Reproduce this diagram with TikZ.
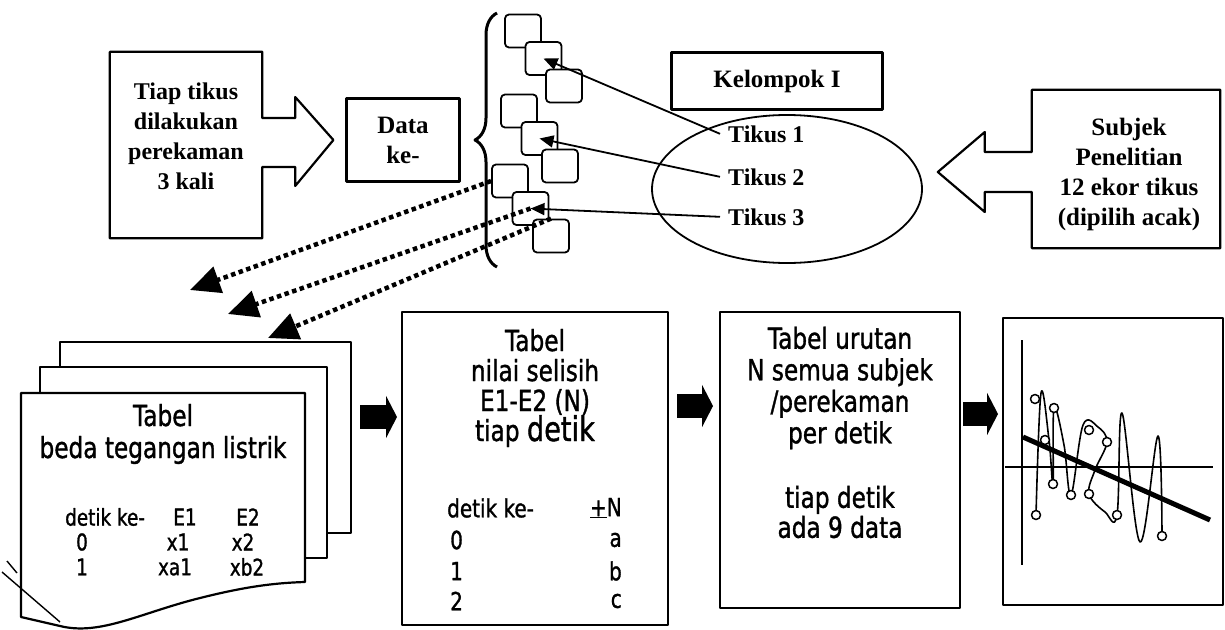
\documentclass[tikz,border=0pt]{standalone}
\usepackage{fontspec}
\setmainfont{Liberation Serif}
\newfontfamily\tahoma[FakeStretch=0.8, FakeBold=1.2]{DejaVu Sans}
\usetikzlibrary{arrows.meta, calc, positioning, shapes.geometric, decorations.pathreplacing}

\begin{document}
\begin{tikzpicture}[
    x=1pt, y=-1pt,
    line join=round,
    every node/.style={inner sep=0pt},
    frame/.style={draw, line width=2.2pt},
    serif/.style={font=\bfseries\fontsize{25}{30}\selectfont, align=center},
    sans/.style={font=\tahoma\fontsize{29}{31.5}\selectfont, align=center},
    cell/.style={font=\tahoma\fontsize{23}{25}\selectfont},
    cellb/.style={font=\tahoma\fontsize{25}{27}\selectfont},
    minibox/.style={draw, line width=1.8pt, rounded corners=4pt, fill=white, minimum width=36pt, minimum height=33pt},
    ptr/.style={line width=1.8pt, -{Triangle[length=14pt,width=12pt]}},
    dots/.style={line width=4.5pt, dash pattern=on 4.5pt off 3.5pt, -{Triangle[length=30pt,width=27pt]}},
    fat/.style={line width=24pt, -{Triangle[length=11pt,width=42pt]}},
    dot/.style={draw, fill=white, line width=1.5pt}
]
    \useasboundingbox (0,0) rectangle (1225,629);

    % top row
    \node[minimum width=152pt, minimum height=186pt] (tiap) at (186,145) {};
    \node[serif, font=\bfseries\fontsize{24}{30}\selectfont] (tiaptxt) at (186,136) {Tiap tikus\\dilakukan\\perekaman\\3 kali};
    \node[frame, serif, minimum width=113pt, minimum height=83pt] (data) at (403,140) {Data\\ke-};
    \draw[frame] (tiap.north west) -- (tiap.north east) -- ($(tiap.east)+(0,-27)$) -- ++(33,0) -- ++(0,-21)
        -- ($(data.west)+(-12,0)$) -- ($(tiap.east)+(33,41)$) -- ($(tiap.east)+(33,22)$)
        -- ($(tiap.east)+(0,22)$) -- (tiap.south east) -- (tiap.south west) -- cycle;

    \draw[line width=3pt, decorate, decoration={brace, amplitude=22pt}] (497,267) -- (497,13);

    \foreach \g/\x/\y in {1/523/31, 2/519/111, 3/510/181}
        \foreach \k in {1,2,3}
            \node[minibox] (s\g\k) at ({\x+20.5*(\k-1)},{\y+27.5*(\k-1)}) {};

    \node[frame, serif, minimum width=211pt, minimum height=57pt] (kel) at (777,81) {Kelompok I};
    \node[draw, ellipse, line width=1.8pt, minimum width=270pt, minimum height=148pt] (grp) at (787,189) {};
    \node[serif, font=\bfseries\fontsize{24}{30}\selectfont, anchor=base west, inner xsep=8pt] (t1) at (720,142) {Tikus 1};
    \node[serif, font=\bfseries\fontsize{24}{30}\selectfont, anchor=base west, inner xsep=8pt] (t2) at (720,185) {Tikus 2};
    \node[serif, font=\bfseries\fontsize{24}{30}\selectfont, anchor=base west, inner xsep=8pt] (t3) at (720,225) {Tikus 3};
    \draw[ptr] (t1.west) -- (s12.center);
    \draw[ptr] (t2.west) -- (s22.center);
    \draw[ptr] (t3.west) -- (s32.center);

    \node[minimum width=188pt, minimum height=158pt] (subj) at (1126,169) {};
    \node[serif] (subjtxt) at (1129,174) {Subjek\\Penelitian\\12 ekor tikus\\(dipilih acak)};
    \draw[frame] (subj.north west) -- (subj.north east) -- (subj.south east) -- (subj.south west)
        -- ($(subj.west)+(0,23)$) -- ++(-47,0) -- ++(0,20) -- ($(subj.west)+(-94,3)$)
        -- ($(subj.west)+(-47,-37)$) -- ++(0,20) -- ($(subj.west)+(0,-17)$) -- cycle;

    % dotted links to the tables
    \coordinate (d1) at (190,290);
    \coordinate (d2) at (228,314);
    \coordinate (d3) at (268,338);
    \draw[dots] (s31.west) -- (d1);
    \draw[dots] (s32.center) -- (d2);
    \draw[dots] (s33.north) -- (d3);

    % bottom row
    \node[frame, fill=white, minimum width=291pt, minimum height=191pt] (sheetC) at (205.5,437.5) {};
    \node[frame, fill=white, minimum width=287pt, minimum height=191pt] (sheetB) at (183.5,462.5) {};
    \draw[frame, fill=white] (21,393) -- (305,393) -- (305,582)
        .. controls (270,583) and (240,588) .. (200,598)
        .. controls (140,613) and (100,636) .. (60,626) -- (21,617) -- cycle;
    \draw[line width=1.4pt] (2,572) -- (60,622);
    \draw[line width=1.4pt] (7,561) -- (17,573);
    \node[sans, font=\tahoma\fontsize{29}{32}\selectfont] (ftitle) at (163,434) {Tabel\\beda tegangan listrik};
    \node[cell, anchor=west] (fh) at (65,517) {detik ke-};
    \node[cell] (fe1) at (185,517) {E1};
    \node[cell] (fe2) at (248,517) {E2};
    \node[cell] (fr0) at (82,542) {0};
    \node[cell] (fx1) at (178,542) {x1};
    \node[cell] (fx2) at (243,542) {x2};
    \node[cell] (fr1) at (82,567) {1};
    \node[cell] (fxa) at (175,567) {xa1};
    \node[cell] (fxb) at (247,567) {xb2};

    \node[frame, minimum width=266pt, minimum height=313pt] (tabN) at (535,468.5) {};
    \node[sans, font=\tahoma\fontsize{29}{30}\selectfont] (ntitle) at (535,388) {Tabel\\nilai selisih\\E1-E2 (N)\\tiap {\fontsize{34}{30}\selectfont detik}};
    \node[cellb, anchor=west] (nh) at (447,508) {detik ke-};
    \node[cellb, anchor=east] (npm) at (622,508) {\underline{+}N};
    \node[cellb, anchor=west] (n0) at (450,540) {0};
    \node[cellb, anchor=west] (n1) at (450,571) {1};
    \node[cellb, anchor=west] (n2) at (450,601) {2};
    \node[cellb, anchor=east] (na) at (622,540) {a};
    \node[cellb, anchor=east] (nb) at (622,571) {b};
    \node[cellb, anchor=east] (nc) at (622,601) {c};

    \node[frame, minimum width=240pt, minimum height=296pt] (tabU) at (840,460) {};
    \node[sans] (utitle) at (840,388) {Tabel urutan\\N semua subjek\\/perekaman\\per detik};
    \node[sans, font=\tahoma\fontsize{29}{30}\selectfont] (unote) at (840,512) {tiap detik\\ada 9 data};

    \node[frame, minimum width=220pt, minimum height=287pt] (plot) at (1113,461.5) {};
    \draw[line width=2pt] (1022,340) -- (1022,565);
    \draw[line width=2pt] (1005,467) -- (1213,467);
    \draw[line width=1.6pt] plot[smooth, tension=0.6] coordinates {(1036,515) (1041,393) (1049,440) (1053,484)
        (1054,408) (1064,445) (1071,495) (1083,425) (1098,427) (1107,442) (1095,470) (1089,494)
        (1105,512) (1117,515) (1122,413) (1140,542) (1158,436) (1162,536)};
    \draw[line width=5pt] (1023,437) -- (1210,520);
    \foreach \p in {(1036,515),(1035,399),(1045,440),(1053,484),(1054,408),(1071,495),(1089,430),(1107,442),(1089,494),(1117,515),(1162,536)}
        \draw[dot] \p circle[radius=4.5pt];

    % flow arrows
    \coordinate (a1s) at (360,417);
    \coordinate (a1e) at (397,417);
    \coordinate (a2s) at (677,406);
    \coordinate (a2e) at (713,406);
    \coordinate (a3s) at (963,414);
    \coordinate (a3e) at (998,414);
    \draw[fat] (a1s) -- (a1e);
    \draw[fat] (a2s) -- (a2e);
    \draw[fat] (a3s) -- (a3e);
\end{tikzpicture}
\end{document}
